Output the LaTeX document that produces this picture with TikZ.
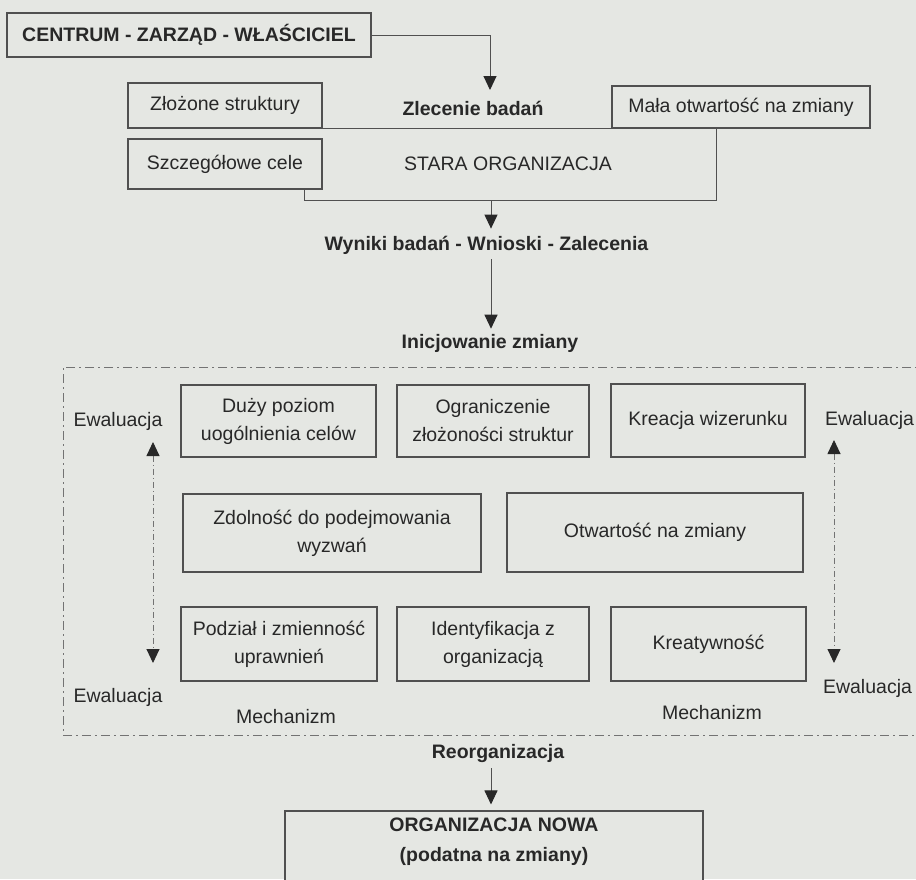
\documentclass[tikz,border=0pt]{standalone}
\usepackage{fontspec}
\setmainfont{Liberation Sans}
\usetikzlibrary{arrows.meta,calc}

\definecolor{paper}{RGB}{229,231,227}
\definecolor{ink}{RGB}{40,40,40}
\definecolor{rule}{RGB}{80,80,80}
\definecolor{frameline}{RGB}{115,115,115}

\newcommand\diagfont{\fontsize{19.5}{28}\selectfont}

\tikzset{
  box/.style={draw=rule, line width=1.1pt, fill=paper, text=ink,
              inner sep=0pt, align=center, font=\diagfont},
  lbl/.style={text=ink, inner sep=3pt, align=center, font=\diagfont},
  hd/.style={lbl, font=\diagfont\bfseries},
  edge/.style={draw=rule, line width=1.1pt},
  arr/.style={draw=rule, line width=1pt,
              -{Triangle[length=14pt,width=13pt,color=ink]}},
  evarr/.style={draw=frameline, line width=0.9pt,
              dash pattern=on 6pt off 3pt on 1pt off 3pt,
              {Triangle[length=14pt,width=13pt,color=ink]}-{Triangle[length=14pt,width=13pt,color=ink]}},
  framebox/.style={draw=frameline, line width=1pt,
              dash pattern=on 9pt off 4pt on 2pt off 4pt}
}

\begin{document}
\begin{tikzpicture}[x=1pt,y=-1pt]
  % page
  \fill[paper] (0,0) rectangle (916,879);
  \clip (0,0) rectangle (916,879);

  % top block
  \node[box, font=\diagfont\bfseries, minimum width=364pt, minimum height=44pt]
       (centrum) at (189,35) {CENTRUM - ZARZĄD - WŁAŚCICIEL};
  \node[box, draw=none, minimum width=411pt, minimum height=73pt] (stara) at (510.5,163.5)
       {\hspace*{-5pt}STARA ORGANIZACJA};
  \node[box, minimum width=194pt, minimum height=45pt] (zlozone) at (225,105.5)
       {Złożone struktury};
  \node[box, minimum width=194pt, minimum height=50pt] (szczeg) at (225,164)
       {Szczegółowe cele};
  % outline of the old organisation, partly behind the small boxes
  \draw[edge] (zlozone.south east) -| (stara.south east)
              -- (stara.south west) -- (stara.west |- szczeg.south);
  \node[box, minimum width=258pt, minimum height=42pt] (mala) at (741,107)
       {Mała otwartość na zmiany};
  \node[hd] (zlecenie) at (473,108) {Zlecenie badań};

  % main column of arrows
  \coordinate (col) at (491,0);
  \coordinate (zl) at (490,90);
  \draw[arr] (centrum.east) -| (zl);

  \node[hd] (wyniki) at (486.5,245) {Wyniki badań - Wnioski - Zalecenia};
  \node[hd] (inic) at (490,343) {Inicjowanie zmiany};
  \draw[arr, shorten >=4pt] (stara.south -| col) -- (wyniki.north -| col);
  \draw[arr, shorten <=2pt, shorten >=2pt] (wyniki.south -| col) -- (inic.north -| col);

  % mechanism frame
  \draw[framebox] (930,367) -- (63,367) -- (63,735) -- (930,735);

  \node[box, minimum width=195pt, minimum height=72pt] (duzy) at (278.5,421)
       {Duży poziom\\uogólnienia celów};
  \node[box, minimum width=192pt, minimum height=72pt] (ogran) at (493,421)
       {Ograniczenie\\złożoności struktur};
  \node[box, minimum width=194pt, minimum height=73pt] (kreacja) at (708,420.5)
       {Kreacja wizerunku};
  \node[box, minimum width=298pt, minimum height=78pt] (zdol) at (332,533)
       {Zdolność do podejmowania\\wyzwań};
  \node[box, minimum width=296pt, minimum height=79pt] (otw) at (655,532.5)
       {Otwartość na zmiany};
  \node[box, minimum width=196pt, minimum height=74pt] (podzial) at (279,644)
       {Podział i zmienność\\uprawnień};
  \node[box, minimum width=192pt, minimum height=74pt] (ident) at (493,644)
       {Identyfikacja z\\organizacją};
  \node[box, minimum width=195pt, minimum height=74pt] (kreat) at (708.5,644)
       {Kreatywność};

  % evaluation loops
  \node[lbl] (evLt) at (118,421) {Ewaluacja};
  \node[lbl] (evLb) at (118,697) {Ewaluacja};
  \node[lbl] (evRt) at (869.5,420) {Ewaluacja};
  \node[lbl] (evRb) at (867.5,688) {Ewaluacja};
  \coordinate (evLtop) at (153,442);
  \coordinate (evLbot) at (153,663);
  \coordinate (evRtop) at (834,440);
  \coordinate (evRbot) at (834,663);
  \draw[evarr] (evLtop) -- (evLbot);
  \draw[evarr] (evRtop) -- (evRbot);

  \node[lbl] (mechL) at (286,717) {Mechanizm};
  \node[lbl] (mechR) at (712,713) {Mechanizm};

  % result
  \node[hd] (reorg) at (498,753) {Reorganizacja};
  \node[box, minimum width=418pt, minimum height=120pt] (nowa) at (494,871) {};
  \node[hd, font=\fontsize{19.5}{30}\selectfont\bfseries] (nowatxt) at (494,842)
       {ORGANIZACJA NOWA\\(podatna na zmiany)};
  \draw[arr, shorten <=3pt, shorten >=6pt] (reorg.south -| col) -- (nowa.north -| col);
\end{tikzpicture}
\end{document}
